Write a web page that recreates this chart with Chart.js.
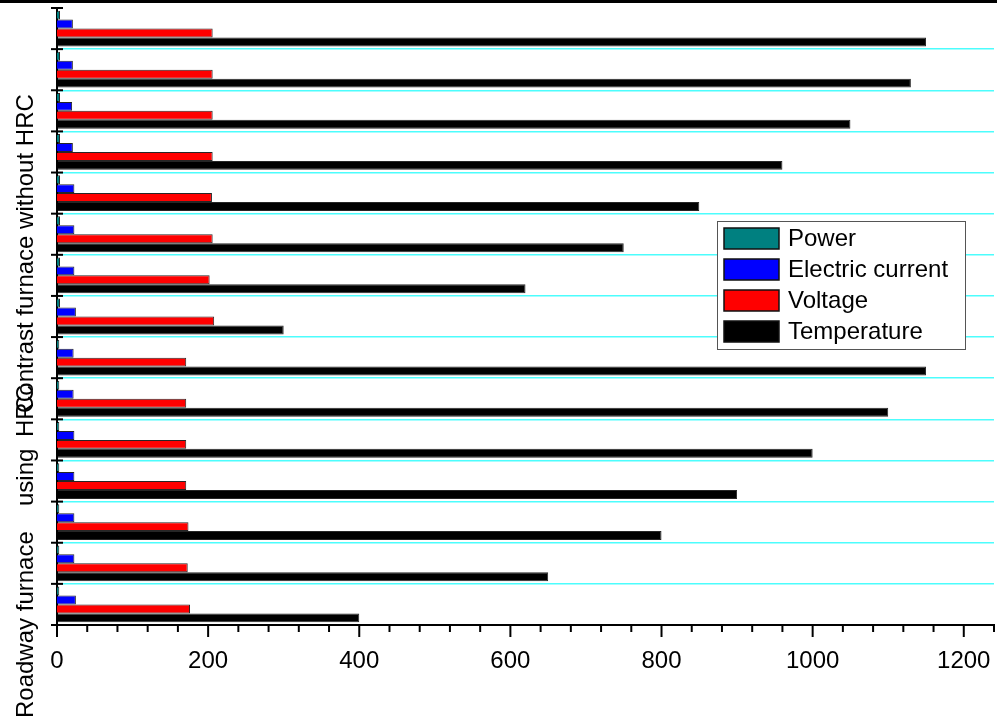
<!DOCTYPE html>
<html lang="en">
<head>
<meta charset="UTF-8">
<title>furnace bars</title>
<script src="https://cdn.jsdelivr.net/npm/chart.js"></script>
<style>
  html, body { margin: 0; padding: 0; background: #fff; }
  #wrap { width: 997px; height: 720px; }
</style>
</head>
<body>
<div id="wrap"><canvas id="canvas"></canvas></div>
<script>
// rows top to bottom: 8 contrast furnace runs, then 7 roadway furnace runs (with HRC)
const categories = ['C1', 'C2', 'C3', 'C4', 'C5', 'C6', 'C7', 'C8',
                    'R1', 'R2', 'R3', 'R4', 'R5', 'R6', 'R7'];
const power       = [4, 4, 4, 4, 4, 4, 4, 4, 3, 3, 3, 3, 3, 3, 3];
const current     = [21, 21, 20, 21, 23, 23, 23, 25, 22, 22, 23, 23, 23, 23, 25];
const voltage     = [206, 206, 206, 206, 205, 206, 202, 208, 171, 171, 171, 171, 174, 173, 176];
const temperature = [1150, 1130, 1050, 960, 850, 750, 620, 300, 1150, 1100, 1000, 900, 800, 650, 400];
const seriesNames = ['Power', 'Electric current', 'Voltage', 'Temperature'];
const seriesColors = ['#008080', '#0000ff', '#ff0000', '#000000'];
const xTickLabels = [0, 200, 400, 600, 800, 1000, 1200];
const xMinorStep = 40;
const xMax = 1240;

const FONT = 'Arial, "Liberation Sans", sans-serif';

// extra drawing: tick marks + labels, axis titles, boxed legend, top rule
const decorPlugin = {
    id: 'decor',
    afterDraw(chart) {
        const ctx = chart.ctx;
        const xs = chart.scales.x, ys = chart.scales.y;
        const area = chart.chartArea;
        ctx.save();
        ctx.strokeStyle = '#000';
        ctx.lineWidth = 2;

        // y ticks crossing the axis at band boundaries
        for (let i = 0; i <= categories.length; i++) {
            const y = ys.getPixelForValue(i - 0.5);
            ctx.beginPath();
            ctx.moveTo(area.left - 6, y);
            ctx.lineTo(area.left + 6, y);
            ctx.stroke();
        }
        // x ticks, major and minor
        for (let v = 0; v <= xMax; v += xMinorStep) {
            const x = xs.getPixelForValue(v);
            const len = xTickLabels.includes(v) ? 12 : 7;
            ctx.beginPath();
            ctx.moveTo(x, area.bottom);
            ctx.lineTo(x, area.bottom + len);
            ctx.stroke();
        }
        // x tick labels
        ctx.fillStyle = '#000';
        ctx.font = '24px ' + FONT;
        ctx.textAlign = 'center';
        ctx.textBaseline = 'middle';
        xTickLabels.forEach(v => {
            ctx.fillText(String(v), xs.getPixelForValue(v), area.bottom + 36);
        });

        // top rule (edge of the panel above)
        ctx.lineWidth = 3;
        ctx.beginPath();
        ctx.moveTo(0, 1.5);
        ctx.lineTo(chart.width, 1.5);
        ctx.stroke();

        // rotated group titles
        ctx.textBaseline = 'alphabetic';
        ctx.textAlign = 'left';
        const titles = [
            ['Roadway furnace', 718],
            ['using', 506],
            ['HRC', 437],
            ['Contrast furnace without HRC', 413]
        ];
        titles.forEach(([txt, y]) => {
            ctx.save();
            ctx.translate(33, y);
            ctx.rotate(-Math.PI / 2);
            ctx.fillText(txt, 0, 0);
            ctx.restore();
        });

        // boxed legend
        const lx = 717, ly = 221, lw = 248, lh = 128;
        ctx.fillStyle = '#fff';
        ctx.fillRect(lx, ly, lw, lh);
        ctx.strokeStyle = '#555';
        ctx.lineWidth = 1;
        ctx.strokeRect(lx + 0.5, ly + 0.5, lw, lh);
        chart.data.datasets.forEach((ds, i) => {
            const sy = ly + 7 + i * 31;
            ctx.fillStyle = ds.backgroundColor;
            ctx.fillRect(lx + 7, sy, 55, 21);
            ctx.strokeStyle = '#111';
            ctx.lineWidth = 1.5;
            ctx.strokeRect(lx + 7, sy, 55, 21);
            ctx.fillStyle = '#000';
            ctx.font = '24px ' + FONT;
            ctx.textBaseline = 'middle';
            ctx.fillText(ds.label, lx + 71, sy + 11);
        });
        ctx.restore();
    }
};

const seriesData = [power, current, voltage, temperature];

const config = {
    type: 'bar',
    data: {
        labels: categories,
        datasets: seriesData.map((d, i) => ({
            label: seriesNames[i],
            data: d,
            backgroundColor: seriesColors[i],
            borderColor: 'rgba(0,0,0,0.85)',
            borderWidth: 1,
            categoryPercentage: 0.87,
            barPercentage: 1.0
        }))
    },
    options: {
        indexAxis: 'y',
        responsive: true,
        maintainAspectRatio: false,
        animation: false,
        layout: { padding: { top: 8, right: 3, left: 0, bottom: 0 } },
        plugins: {
            legend: { display: false },
            tooltip: { enabled: false }
        },
        scales: {
            x: {
                type: 'linear',
                min: 0,
                max: xMax,
                grid: { display: false, drawTicks: false },
                border: { display: true, color: '#000', width: 2 },
                ticks: { display: false, stepSize: xMinorStep },
                afterFit: s => { s.height = 95; s.paddingLeft = 0; s.paddingRight = 0; }
            },
            y: {
                type: 'category',
                grid: {
                    display: true,
                    drawTicks: false,
                    lineWidth: 1.5,
                    color: c => (c.index === 0 ? 'rgba(0,0,0,0)' : '#4dfdfd')
                },
                border: { display: true, color: '#000', width: 2 },
                ticks: { display: false },
                afterFit: s => { s.width = 57; }
            }
        }
    },
    plugins: [decorPlugin]
};

new Chart(document.getElementById('canvas'), config);
</script>
</body>
</html>
